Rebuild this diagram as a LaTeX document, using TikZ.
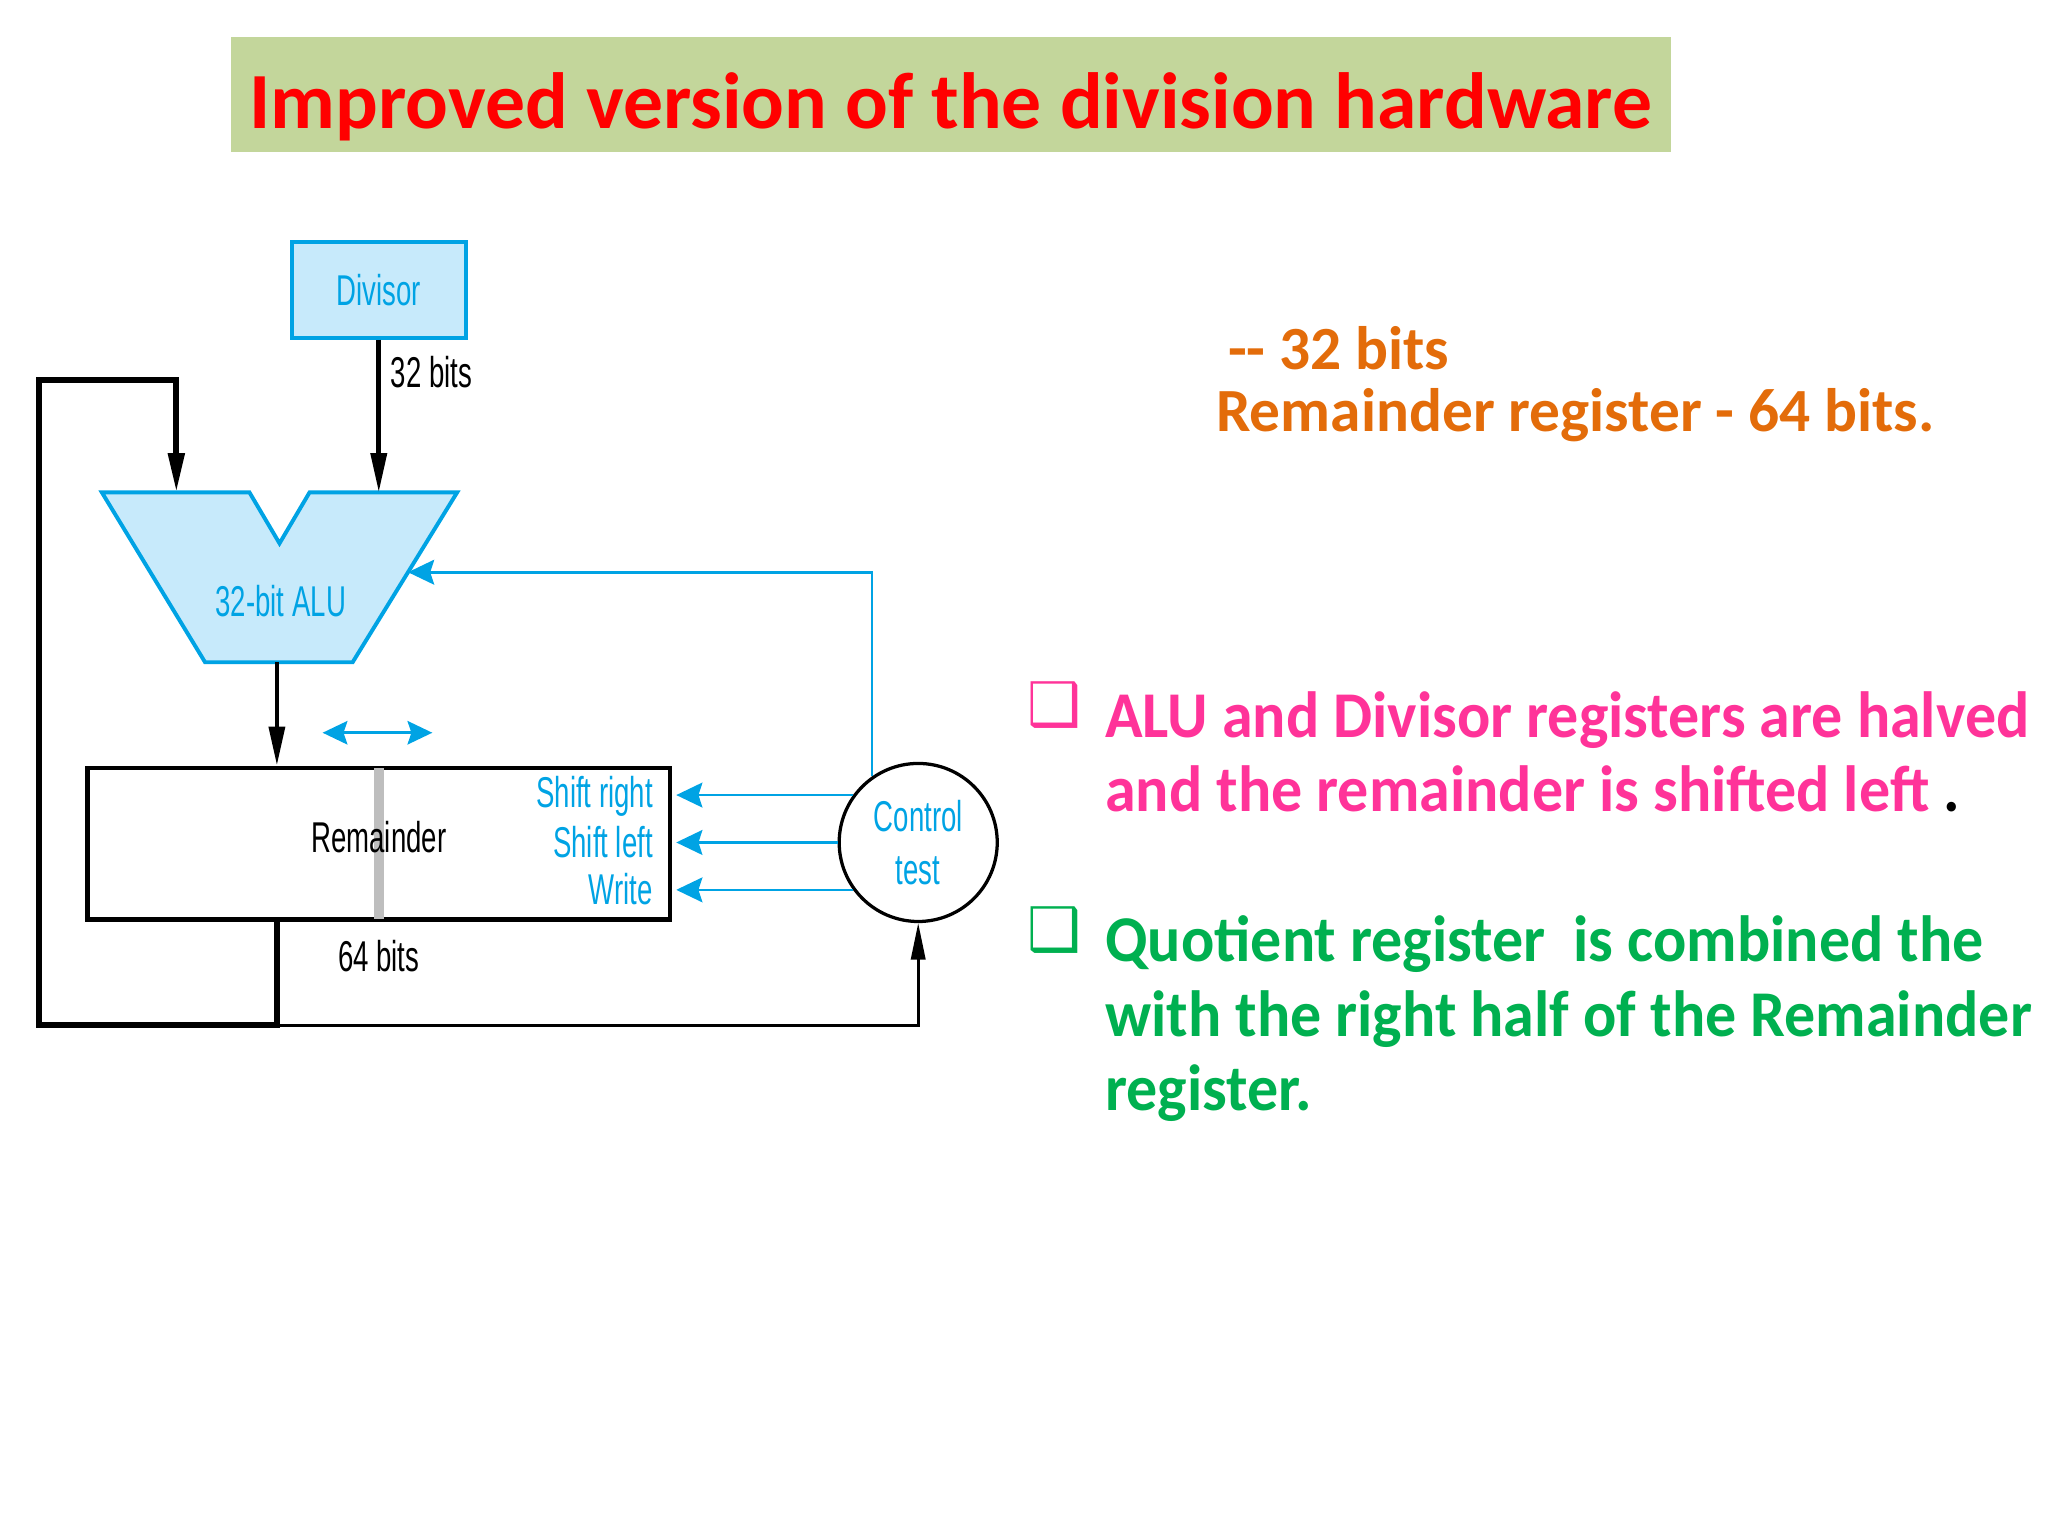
\documentclass[tikz,border=0pt]{standalone}
\usepackage{fontspec}
\setmainfont{Carlito}
\newfontfamily\notefont[FakeStretch=0.95]{Carlito}
\newfontfamily\figfont[FakeStretch=0.64]{Liberation Sans}
\newfontfamily\symfont{DejaVu Sans}
\usetikzlibrary{arrows.meta, calc}

\definecolor{titlebg}{HTML}{C3D69B}
\definecolor{figblue}{HTML}{00A3E4}
\definecolor{figfill}{HTML}{C7EAFB}
\definecolor{remgray}{HTML}{BEBEBE}
\definecolor{orangetxt}{HTML}{E36C0A}
\definecolor{pinktxt}{HTML}{FF3399}
\definecolor{greentxt}{HTML}{00B050}

\tikzset{
  lbl/.style={font=\figfont\fontsize{33}{41}\selectfont, inner sep=0pt},
  bluelbl/.style={lbl, text=figblue},
  sig/.style={figblue, line width=2pt, -{Stealth[length=20pt,width=19pt,inset=3pt]}},
  bus/.style={line width=3.5pt, -{Triangle[length=30pt,width=12pt]}},
  sidetext/.style={font=\bfseries\fontsize{47}{52}\selectfont, text=orangetxt, inner sep=0pt},
  pointtext/.style={font=\notefont\bfseries\fontsize{50}{57}\selectfont, inner sep=0pt, align=left},
  bulletbox/.style={font=\symfont\fontsize{46}{46}\selectfont, inner sep=0pt}
}

\begin{document}
\begin{tikzpicture}[x=1pt, y=-1pt]
\useasboundingbox (0,0) rectangle (1568,1176);

% title
\node[fill=titlebg, minimum width=1102pt, minimum height=88pt, inner sep=0pt,
  text height=52pt, text depth=0pt,
  text=red, font=\bfseries\fontsize{61}{70}\selectfont] (title) at (728,72)
  {Improved version of the division hardware};

% divisor and ALU
\node[draw=figblue, fill=figfill, line width=3pt, minimum width=133pt,
  minimum height=73pt, bluelbl] (divisor) at (290,222) {Divisor};

\coordinate (alu-tl) at (78,377);
\coordinate (alu-tr) at (350,377);
\coordinate (alu-br) at (270,507);
\coordinate (alu-bl) at (157,507);
\coordinate (alu-a) at (135,377);
\coordinate (alu-b) at (290,377);
\coordinate (alu-out) at (212,507);
\coordinate (alu-fb) at ($(alu-tr)!0.47!(alu-br)$);
\draw[figblue, fill=figfill, line width=3pt] (alu-tl) -- (191,377) -- (214,416)
  -- (237,377) -- (alu-tr) -- (alu-br) -- (alu-bl) -- cycle;
\node[bluelbl] (alu) at (215,460) {32-bit ALU};

\draw[bus] (divisor.south) -- (alu-b);
\node[lbl, anchor=west] (dbits) at (299,285) {32 bits};

% remainder register
\node[draw, line width=3.5pt, minimum width=446pt, minimum height=116pt,
  inner sep=0pt] (rem) at (290,646) {};
\draw[remgray, line width=8pt] ($(rem.north)+(0,2)$) -- ($(rem.south)+(0,-2)$);
\node[lbl] (remtxt) at (290,641) {Remainder};
\node[lbl] (rbits) at (290,732) {64 bits};
\draw[bus] (alu-out) -- (alu-out |- rem.north);

\coordinate (sh-l) at (247,561);
\coordinate (sh-r) at (331,561);
\draw[figblue, line width=2pt, {Stealth[length=19pt,width=18pt,inset=3pt]}-{Stealth[length=19pt,width=18pt,inset=3pt]}]
  (sh-l) -- (sh-r);

% control
\node[draw, circle, line width=2.5pt, minimum size=121pt, bluelbl, align=center]
  (ctrl) at (703,645) {Control\\test};
\node[bluelbl, anchor=east] (sr) at (500,610) {Shift right};
\node[bluelbl, anchor=east] (sl) at (500,645) {Shift left};
\node[bluelbl, anchor=east] (wr) at (500,681) {Write};
\foreach \a in {144,180,216}
  \draw[sig] (ctrl.\a) -- ($(ctrl.\a -| rem.east)+(3,0)$);
\draw[sig] (ctrl.125) |- (alu-fb);

% feedback loop
\coordinate (loop-c) at (212,785);
\draw[line width=4.5pt, -{Triangle[length=30pt,width=12pt]}]
  (alu-out |- rem.south) -- (loop-c) -| (30,291) -| (alu-a);
\draw[line width=2pt, -{Triangle[length=28pt,width=11pt]}] (loop-c) -| (ctrl.south);

% notes
\node[sidetext, anchor=base west] (sz1) at (940,283) {-{}- 32 bits};
\node[sidetext, anchor=base west] (sz2) at (931,330) {Remainder register - 64 bits.};

\node[bulletbox, text=pinktxt] (b1) at (807,540) {❑};
\node[pointtext, text=pinktxt, anchor=north west] (p1) at (846,529)
  {ALU and Divisor registers are halved\\and the remainder is shifted left {\color{black}.}};
\node[bulletbox, text=greentxt] (b2) at (807,712) {❑};
\node[pointtext, text=greentxt, anchor=north west] (p2) at (846,701)
  {Quotient register \ is combined the\\with the right half of the Remainder\\register.};
\end{tikzpicture}
\end{document}
